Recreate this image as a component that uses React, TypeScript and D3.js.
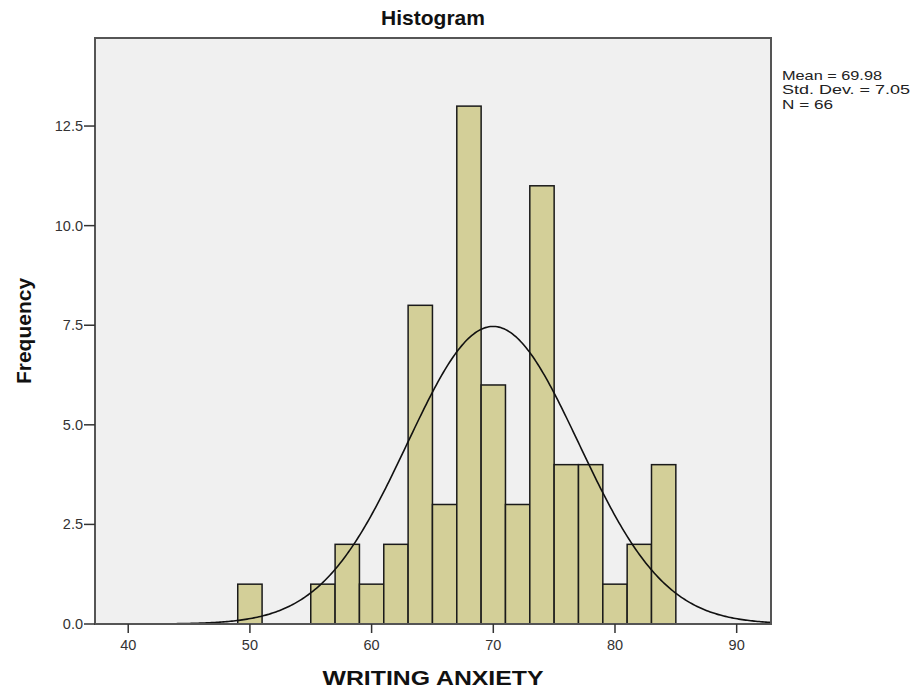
import React from "react";
import * as d3 from "d3";

const binStarts = [49, 55, 57, 59, 61, 63, 65, 67, 69, 71, 73, 75, 77, 79, 81, 83];
const counts = [1, 1, 2, 1, 2, 8, 3, 13, 6, 3, 11, 4, 4, 1, 2, 4];
const binWidth = 2;
const xTicks = [40, 50, 60, 70, 80, 90];
const yTicks = [0, 2.5, 5, 7.5, 10, 12.5];
const mean = 69.98;
const sd = 7.05;
const n = 66;
const statsLines = ["Mean = 69.98", "Std. Dev. = 7.05", "N = 66"];
const statsWidths = [100, 128, 51];

export default function App() {
  const W = 914, H = 689;
  const left = 95, right = 771, top = 38, bottom = 624;
  const x = d3.scaleLinear().domain([37.27, 92.82]).range([left, right]);
  const y = d3.scaleLinear().domain([0, 14.71]).range([bottom, top]);
  const font = "'Liberation Sans', Arial, sans-serif";

  const curvePts: [number, number][] = [];
  const [x0, x1] = x.domain();
  for (let i = 0; i <= 400; i++) {
    const v = x0 + ((x1 - x0) * i) / 400;
    const dens = (n * binWidth) / (sd * Math.sqrt(2 * Math.PI)) * Math.exp(-0.5 * ((v - mean) / sd) ** 2);
    curvePts.push([x(v), y(dens)]);
  }
  const line = d3.line();

  return (
    <svg width={W} height={H} style={{ position: "absolute", left: 0, top: 0, background: "#fff" }} fontFamily={font}>
      <rect x={left} y={top} width={right - left} height={bottom - top} fill="#f0f0f0" />
      {binStarts.map((b, i) => (
        <rect key={i} x={x(b)} y={y(counts[i])} width={x(b + binWidth) - x(b)} height={y(0) - y(counts[i])}
          fill="#d3cf98" stroke="#1a1a1a" strokeWidth={1.5} />
      ))}
      <path d={line(curvePts) || ""} fill="none" stroke="#111" strokeWidth={1.6} />
      <rect x={left} y={top} width={right - left} height={bottom - top} fill="none" stroke="#555" strokeWidth={2} />
      {yTicks.map((t) => (
        <g key={t}>
          <line x1={left - 11} x2={left} y1={y(t)} y2={y(t)} stroke="#333" strokeWidth={1.5} />
          <text x={left - 12} y={y(t)} dy="0.35em" textAnchor="end" fontSize={14.5} fill="#333">{t.toFixed(1)}</text>
        </g>
      ))}
      {xTicks.map((t) => (
        <g key={t}>
          <line x1={x(t)} x2={x(t)} y1={bottom} y2={bottom + 9} stroke="#333" strokeWidth={1.5} />
          <text x={x(t)} y={bottom + 26} textAnchor="middle" fontSize={14.5} fill="#333">{t}</text>
        </g>
      ))}
      <text x={(left + right) / 2} y={25} textAnchor="middle" fontSize={21} fontWeight="bold" fill="#111">Histogram</text>
      <text x={(left + right) / 2} y={685} textAnchor="middle" fontSize={21} fontWeight="bold" fill="#111"
        textLength={221} lengthAdjust="spacingAndGlyphs">WRITING ANXIETY</text>
      <text transform={`translate(31,331) rotate(-90)`} textAnchor="middle" fontSize={21} fontWeight="bold" fill="#111">Frequency</text>
      {statsLines.map((s, i) => (
        <text key={s} x={782} y={79.5 + i * 14.5} fontSize={13} fill="#222"
          textLength={statsWidths[i]} lengthAdjust="spacingAndGlyphs">{s}</text>
      ))}
    </svg>
  );
}
